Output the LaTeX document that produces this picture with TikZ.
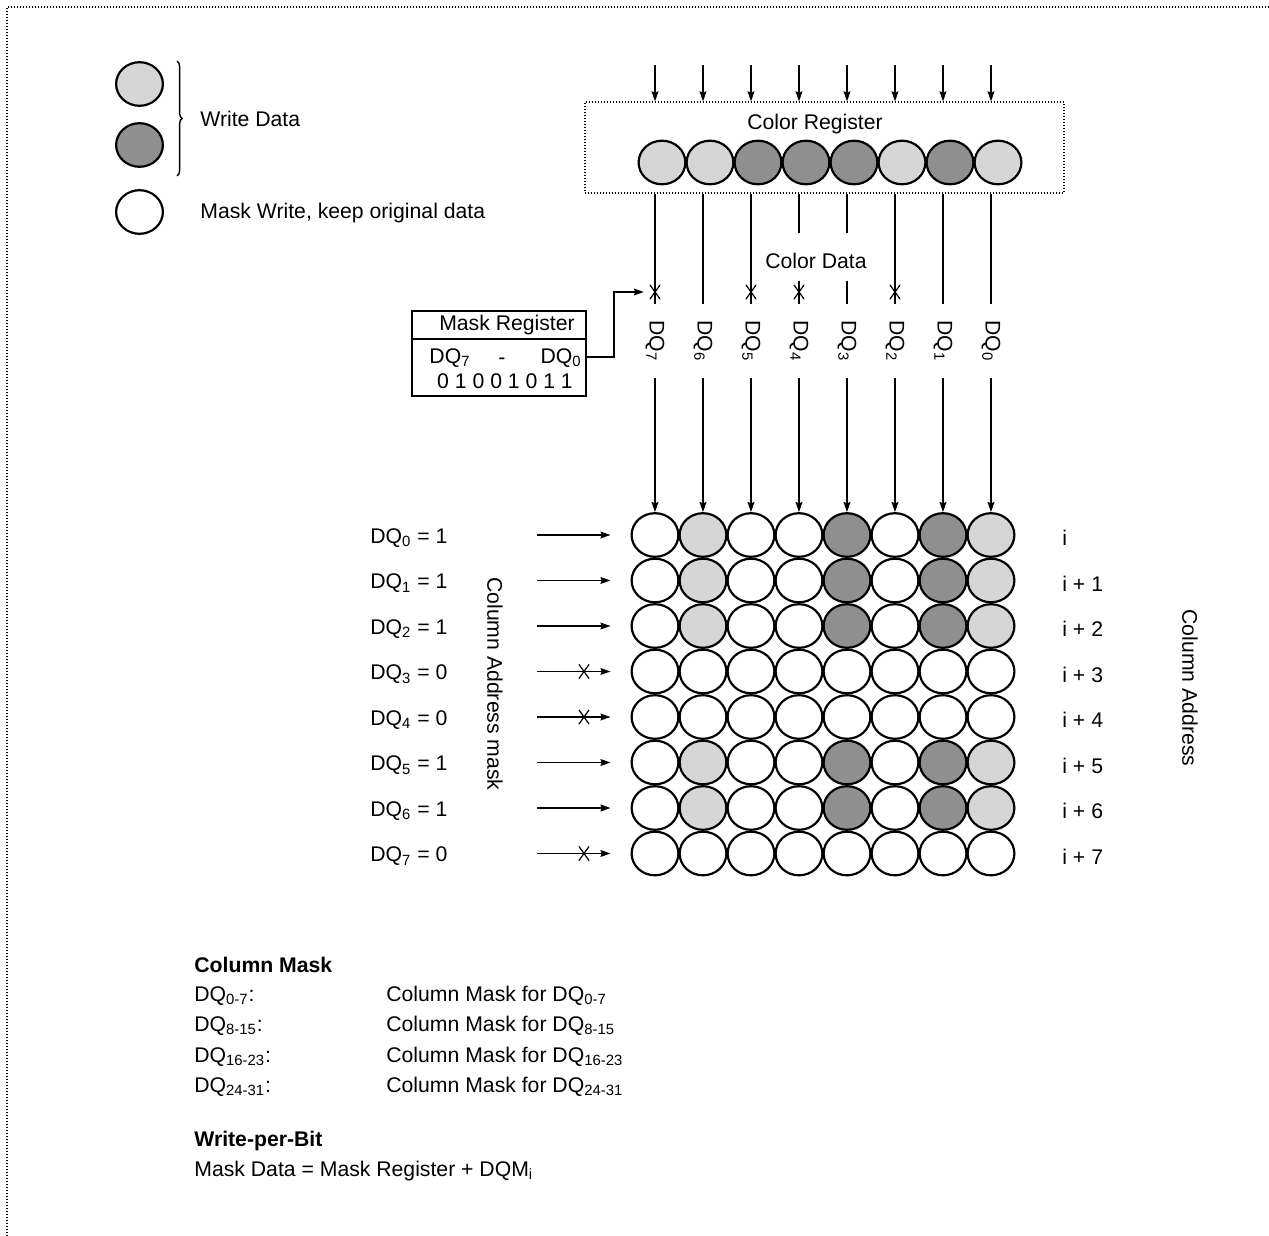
\documentclass[tikz,border=0pt]{standalone}
\usepackage{fontspec}
\setmainfont{Liberation Sans}
\usetikzlibrary{arrows.meta,positioning,shapes.geometric,shapes.misc,decorations.pathreplacing}
\definecolor{ltdot}{gray}{0.84}
\definecolor{dkdot}{gray}{0.56}
\tikzset{
  cell/.style={ellipse,draw,line width=1.1pt,minimum width=23.4pt,minimum height=21.8pt,inner sep=0pt},
  lt/.style={cell,fill=ltdot},
  dk/.style={cell,fill=dkdot},
  ar/.style={-{Stealth[length=5pt,width=3.4pt,inset=0.6pt]},line width=0.7pt},
  ln/.style={line width=0.7pt},
  xo/.style={cross out,draw,line width=0.6pt,minimum width=4.5pt,minimum height=6.5pt,inner sep=0pt},
  txt/.style={inner sep=0pt},
  dotbox/.style={draw,line width=0.6pt,dash pattern=on 0.5pt off 1pt}
}

\begin{document}
\begin{tikzpicture}[x=0.5pt,y=-0.5pt,font=\fontsize{10.6}{12.7}\selectfont]
\useasboundingbox (0,0) rectangle (1269,1236);
\draw[line width=0.6pt,dash pattern=on 0.5pt off 1pt] (7,1236) -- (7,7) -- (1269,7);

\node[lt] (lg1) at (139.5,84) {};
\node[dk] (lg2) at (139.5,145) {};
\node[cell] (lg3) at (139.5,212) {};
\draw[line width=0.7pt,decorate,decoration={brace,amplitude=2.6pt}] (177,61) -- (177,176);
\node[txt,anchor=west] (wd) at (200,119) {Write Data};
\node[txt,anchor=west] (mw) at (200,213) {Mask Write, keep original data};

\node[dotbox,minimum width=239.5pt,minimum height=45.5pt,inner sep=0pt] (creg) at (824.5,147.5) {};
\node[txt] (crt) at (815,124) {Color Register};
\foreach \i/\f in {0/lt,1/lt,2/dk,3/dk,4/dk,5/lt,6/dk,7/lt}
  \node[\f] (cr\i) at ({662+48*\i},162.5) {};

\node[txt] (cdata) at (816,261) {Color Data};

\foreach \i/\n in {0/7,1/6,2/5,3/4,4/3,5/2,6/1,7/0}{
  \coordinate (ti\i) at ({655+48*\i},65);
  \draw[ar] (ti\i) -- (ti\i |- creg.north);
  \node[txt,rotate=-90] (dq\i) at ({655+48*\i},341) {DQ\textsubscript{\n}};
}
\foreach \i in {0,1,2,5,6,7}
  \draw[ln,shorten >=8pt] (ti\i |- creg.south) -- (dq\i.west);
\foreach \i in {3,4}
  \draw[ln,shorten >=8pt] (ti\i |- creg.south) -- ++(0,39) ++(0,48) -- (dq\i.west);
\foreach \i in {0,2,3,5}
  \node[xo] (cx\i) at ({655+48*\i},292) {};

\node[draw,line width=0.9pt,minimum width=87pt,minimum height=42.5pt,inner sep=0pt] (mreg) at (499,353.5) {};
\draw[line width=0.9pt] (mreg.west |- 0,339) -- (mreg.east |- 0,339);
\node[txt] (mrt) at (507,325) {Mask Register};
\node[txt] (mq7) at (450,358) {DQ\textsubscript{7}};
\node[txt] (mdash) at (502,361) {-};
\node[txt,anchor=east] (mq0) at (582,358) {DQ\textsubscript{0}};
\node[txt] (mbits) at (505,381) {0 1 0 0 1 0 1 1};
\draw[ar,shorten >=3pt] ([yshift=-1.75pt]mreg.east) -- ++(27,0) |- (cx0);

\foreach \r/\m in {0/1,1/1,2/1,3/0,4/0,5/1,6/1,7/0}{
  \foreach \i/\f in {0/cell,1/lt,2/cell,3/cell,4/dk,5/cell,6/dk,7/lt}{
    \ifnum\m=1
      \node[\f] (g\r-\i) at ({655+48*\i},{535+45.5*\r}) {};
    \else
      \node[cell] (g\r-\i) at ({655+48*\i},{535+45.5*\r}) {};
    \fi
  }
  \node[txt,anchor=west] (dl\r) at (370,{538+45.5*\r}) {DQ\textsubscript{\r} = \m};
  \coordinate (rs\r) at (537,{535+45.5*\r});
  \draw[ar,shorten >=10pt] (rs\r) -- (g\r-0);
  \ifnum\m=0
    \node[xo] (rx\r) at (584,{535+45.5*\r}) {};
  \fi
  \ifnum\r=0
    \node[txt,anchor=west] (ca\r) at (1062,{538+45.5*\r}) {i};
  \else
    \node[txt,anchor=west] (ca\r) at (1062,{538+45.5*\r}) {i + \r};
  \fi
}
\foreach \i in {0,...,7}
  \draw[ar,shorten <=8pt] (dq\i.east) -- (g0-\i);

\node[txt,rotate=-90] (cam) at (495,684) {Column Address mask};
\node[txt,rotate=-90] (cad) at (1190,688) {Column Address};

\node[txt,anchor=west,font=\fontsize{10.6}{12.7}\selectfont\bfseries] (cmh) at (194,965) {Column Mask};
\foreach \k/\s/\y in {0/0-7/996,1/8-15/1026,2/16-23/1057,3/24-31/1087}{
  \node[txt,anchor=west] (cmk\k) at (194,\y) {DQ\textsubscript{\s}:};
  \node[txt,anchor=west] (cmv\k) at (386,\y) {Column Mask for DQ\textsubscript{\s}};
}
\node[txt,anchor=west,font=\fontsize{10.6}{12.7}\selectfont\bfseries] (wpb) at (194,1141) {Write-per-Bit};
\node[txt,anchor=west] (mdt) at (194,1171) {Mask Data = Mask Register + DQM\textsubscript{i}};
\end{tikzpicture}
\end{document}
